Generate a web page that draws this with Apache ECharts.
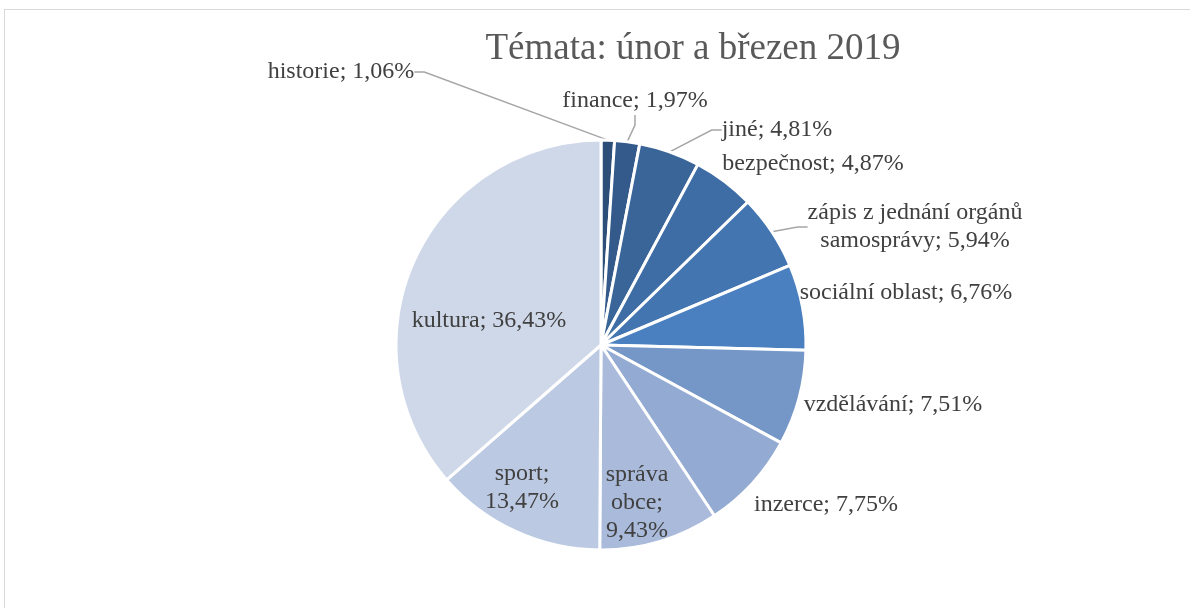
<!DOCTYPE html>
<html>
<head>
<meta charset="utf-8">
<script src="https://cdn.jsdelivr.net/npm/echarts@6/dist/echarts.min.js"></script>
<style>
  html, body { margin: 0; padding: 0; background: #fff; }
  #frame { position: absolute; left: 4px; top: 9px; width: 1200px; height: 620px; border-left: 1px solid #d9d9d9; border-top: 1px solid #d9d9d9; }
  #chart { position: absolute; left: 0; top: 0; width: 1190px; height: 608px; }
</style>
</head>
<body>
<div id="frame"></div>
<div id="chart"></div>
<script>
// Témata: únor a březen 2019
const categories = ['historie', 'finance', 'jiné', 'bezpečnost', 'zápis z jednání orgánů samosprávy',
    'sociální oblast', 'vzdělávání', 'inzerce', 'správa obce', 'sport', 'kultura'];
const shares = [1.06, 1.97, 4.81, 4.87, 5.94, 6.76, 7.51, 7.75, 9.43, 13.47, 36.43];
const colors = ['#2c4e78', '#335a8b', '#3a6599', '#3e6da5', '#4375b1', '#4a7fc0',
    '#7597c7', '#93aad2', '#a9badb', '#bcc9e2', '#ced8e9'];

// label anchors (center of text block) and which ones get a leader line
const labelPos = [[341, 72], [635, 101], [777, 130], [813, 164], [915, 227],
    [906, 293], [893, 405], [826, 505], [637, 503], [522, 488], [489, 321]];
const withLine = [true, true, true, false, true, false, false, false, false, false, false];
// how the label text wraps (Excel style)
const wrapped = { 4: 'zápis z jednání orgánů\nsamosprávy; ', 8: 'správa\nobce;\n', 9: 'sport;\n' };

const chart = echarts.init(document.getElementById('chart'));

const fmt = v => v.toFixed(2).replace('.', ',') + '%';

chart.setOption({
    animation: false,
    title: {
        text: 'Témata: únor a březen 2019',
        left: 688, top: 26, textAlign: 'center',
        textStyle: { fontFamily: 'Liberation Serif', fontSize: 37, fontWeight: 'normal', color: '#595959' }
    },
    series: [{
        type: 'pie',
        center: [601, 345],
        radius: [0, 205],
        startAngle: 90,
        clockwise: true,
        avoidLabelOverlap: false,
        itemStyle: { borderColor: '#fff', borderWidth: 3 },
        label: {
            show: true,
            position: 'outside',
            fontFamily: 'Liberation Serif',
            fontSize: 24,
            lineHeight: 28,
            align: 'center',
            color: '#404040',
            formatter: p => (wrapped[p.dataIndex] || p.name + '; ') + fmt(p.value)
        },
        labelLine: { lineStyle: { color: '#a6a6a6', width: 1.5 }, length: 10, length2: 10 },
        labelLayout: p => ({
            x: labelPos[p.dataIndex][0],
            y: labelPos[p.dataIndex][1],
            align: 'center',
            verticalAlign: 'middle'
        }),
        data: categories.map((c, i) => ({
            name: c,
            value: shares[i],
            itemStyle: { color: colors[i] },
            labelLine: { show: withLine[i] }
        }))
    }]
});
</script>
</body>
</html>
